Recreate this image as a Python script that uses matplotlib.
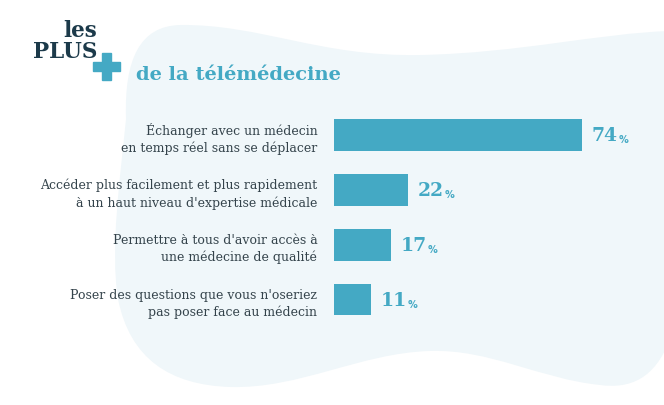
import matplotlib
matplotlib.use("Agg")
import matplotlib.pyplot as plt
from matplotlib.path import Path
from matplotlib.patches import PathPatch, Rectangle

# données
labels = [
    "Échanger avec un médecin\nen temps réel sans se déplacer",
    "Accéder plus facilement et plus rapidement\nà un haut niveau d'expertise médicale",
    "Permettre à tous d'avoir accès à\nune médecine de qualité",
    "Poser des questions que vous n'oseriez\npas poser face au médecin",
]
valeurs = [74, 22, 17, 11]

teal = "#44a9c4"
navy = "#1c3a4a"
gris = "#34434b"
fond = "#f0f7fa"

W, H = 664, 406
fig = plt.figure(figsize=(W / 100, H / 100), dpi=100)
fig.patch.set_facecolor("white")

# fond en pixels
bg = fig.add_axes([0, 0, 1, 1], zorder=0)
bg.set_xlim(0, W)
bg.set_ylim(H, 0)
bg.axis("off")

pts = [
    (126, 120),
    (124, 60), (140, 27), (180, 26),
    (260, 25), (320, 58), (420, 56),
    (520, 54), (600, 34), (670, 32),
    (670, 340),
    (655, 380), (630, 390), (600, 386),
    (540, 380), (490, 350), (430, 352),
    (360, 354), (300, 390), (230, 388),
    (170, 386), (130, 360), (118, 300),
    (110, 250), (120, 180), (126, 120),
]
codes = [Path.MOVETO] + [Path.CURVE4] * 9 + [Path.LINETO] + [Path.CURVE4] * 15
bg.add_patch(PathPatch(Path(pts, codes), facecolor=fond, edgecolor="none"))

# titre
bg.text(97, 37, "les", ha="right", va="baseline", fontsize=15.5,
        fontweight="bold", family="DejaVu Serif", color=navy)
bg.text(97, 58, "PLUS", ha="right", va="baseline", fontsize=15.5,
        fontweight="bold", family="DejaVu Serif", color=navy)
bg.add_patch(Rectangle((93, 63), 27, 9, color=teal))
bg.add_patch(Rectangle((102, 54), 9, 27, color=teal))
bg.text(136, 80, "de la télémédecine", ha="left", va="baseline", fontsize=14,
        fontweight="bold", family="DejaVu Serif", color=teal)

# barres
ax = fig.add_axes([334 / W, 1 - 328 / H, 268 / W, 219.4 / H], zorder=1)
ax.patch.set_alpha(0)
pos = list(range(len(valeurs)))
ax.barh(pos, valeurs, height=0.58, color=teal)
ax.set_xlim(0, 80)
ax.set_ylim(len(valeurs) - 0.5, -0.5)
ax.set_xticks([])
ax.set_yticks(pos)
ax.set_yticklabels(labels, fontsize=9, family="DejaVu Serif", color=gris,
                   linespacing=1.35)
ax.tick_params(axis="y", length=0, pad=12)
for s in ax.spines.values():
    s.set_visible(False)

fig.canvas.draw()
r = fig.canvas.get_renderer()
for p, v in zip(pos, valeurs):
    t = ax.annotate(str(v), (v, p), xytext=(7, 0), textcoords="offset points",
                    ha="left", va="center", fontsize=13.5, fontweight="bold",
                    family="DejaVu Serif", color=teal)
    bb = t.get_window_extent(r)
    x1, yb = fig.transFigure.inverted().transform((bb.x1 + 1, bb.y0 + 2))
    fig.text(x1, yb, "%", ha="left", va="baseline", fontsize=7,
             fontweight="bold", family="DejaVu Sans", color=teal)

fig.savefig("out.png", dpi=100)
